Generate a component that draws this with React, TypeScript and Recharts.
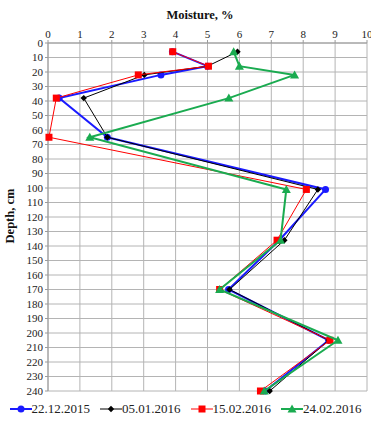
import { CartesianGrid, Scatter, ScatterChart, XAxis, YAxis } from "recharts";

// sampling depths, cm
const depths = [6, 16, 22, 38, 65, 101, 136, 170, 205, 240];

// moisture, % at each depth
const moisture22_12_2015 = [3.9, 5.0, 3.54, 0.35, 1.86, 8.7, 7.25, 5.66, 8.8, 6.81];
const moisture05_01_2016 = [5.94, 5.0, 3.02, 1.12, 1.86, 8.46, 7.41, 5.69, 8.8, 6.95];
const moisture15_02_2016 = [3.91, 5.03, 2.83, 0.26, 0.03, 8.1, 7.18, 5.38, 8.84, 6.66];
const moisture24_02_2016 = [5.82, 6.0, 7.73, 5.67, 1.31, 7.47, 7.29, 5.38, 9.09, 6.78];

const xTicks = [0, 1, 2, 3, 4, 5, 6, 7, 8, 9, 10];
const yTicks = Array.from({ length: 25 }, (_, i) => i * 10);

const FONT = '"Liberation Serif", "Times New Roman", serif';

type Marker = "circle" | "diamond" | "square" | "triangle";

const toPoints = (values: number[]) => values.map((m, i) => ({ m, d: depths[i] }));

const seriesList: { name: string; color: string; width: number; marker: Marker; values: number[] }[] = [
  { name: "22.12.2015", color: "#1a1aff", width: 2, marker: "circle", values: moisture22_12_2015 },
  { name: "05.01.2016", color: "#000000", width: 1, marker: "diamond", values: moisture05_01_2016 },
  { name: "15.02.2016", color: "#ff0000", width: 1, marker: "square", values: moisture15_02_2016 },
  { name: "24.02.2016", color: "#1aab50", width: 2, marker: "triangle", values: moisture24_02_2016 },
];

function drawMarker(marker: Marker, cx: number, cy: number, color: string) {
  switch (marker) {
    case "circle":
      return <circle cx={cx} cy={cy} r={3.5} fill={color} />;
    case "diamond":
      return <path d={`M${cx},${cy - 3.2}L${cx + 3.2},${cy}L${cx},${cy + 3.2}L${cx - 3.2},${cy}Z`} fill={color} />;
    case "square":
      return <rect x={cx - 3.5} y={cy - 3.5} width={7} height={7} fill={color} />;
    default:
      return <path d={`M${cx},${cy - 4.5}L${cx + 4.5},${cy + 3.5}L${cx - 4.5},${cy + 3.5}Z`} fill={color} />;
  }
}

function LegendRow() {
  return (
    <div
      style={{
        position: "absolute",
        left: 0,
        top: 401,
        width: 371,
        display: "flex",
        justifyContent: "center",
        gap: 10,
        fontFamily: FONT,
        fontSize: 13,
        color: "#222",
        lineHeight: "16px",
      }}
    >
      {seriesList.map((s) => (
        <div key={s.name} style={{ display: "flex", alignItems: "center" }}>
          <svg width={22} height={10}>
            <line x1={0} y1={5} x2={22} y2={5} stroke={s.color} strokeWidth={s.width} />
            {drawMarker(s.marker, 11, 5, s.color)}
          </svg>
          <span>{s.name}</span>
        </div>
      ))}
    </div>
  );
}

export default function App() {
  return (
    <div style={{ position: "fixed", left: 0, top: 0, width: 371, height: 421, background: "#fff", fontFamily: FONT }}>
      <ScatterChart width={371} height={421} margin={{ top: 25, right: 4, left: 8, bottom: 30 }}>
        <text x={200} y={19} textAnchor="middle" fontFamily={FONT} fontWeight="bold" fontSize={12.5} fill="#111">
          Moisture, %
        </text>
        <text
          x={14}
          y={216}
          textAnchor="middle"
          fontFamily={FONT}
          fontWeight="bold"
          fontSize={12.5}
          fill="#111"
          transform="rotate(-90 14 216)"
        >
          Depth, cm
        </text>
        <CartesianGrid stroke="#b4b4b4" strokeWidth={1} />
        <XAxis
          type="number"
          dataKey="m"
          orientation="top"
          domain={[0, 10]}
          ticks={xTicks}
          interval={0}
          height={18}
          tickSize={3}
          axisLine={{ stroke: "#9a9a9a" }}
          tickLine={{ stroke: "#9a9a9a" }}
          tick={{ fontFamily: FONT, fontSize: 11, fill: "#222" }}
        />
        <YAxis
          type="number"
          dataKey="d"
          reversed
          domain={[0, 240]}
          ticks={yTicks}
          interval={0}
          width={40}
          tickSize={3}
          axisLine={{ stroke: "#9a9a9a" }}
          tickLine={{ stroke: "#9a9a9a" }}
          tick={{ fontFamily: FONT, fontSize: 11, fill: "#222" }}
        />
        {seriesList.map((s) => (
          <Scatter
            key={s.name}
            name={s.name}
            data={toPoints(s.values)}
            line={{ stroke: s.color, strokeWidth: s.width }}
            lineType="joint"
            isAnimationActive={false}
            shape={(p: any) => drawMarker(s.marker, p.cx, p.cy, s.color)}
          />
        ))}
      </ScatterChart>
      <LegendRow />
    </div>
  );
}
